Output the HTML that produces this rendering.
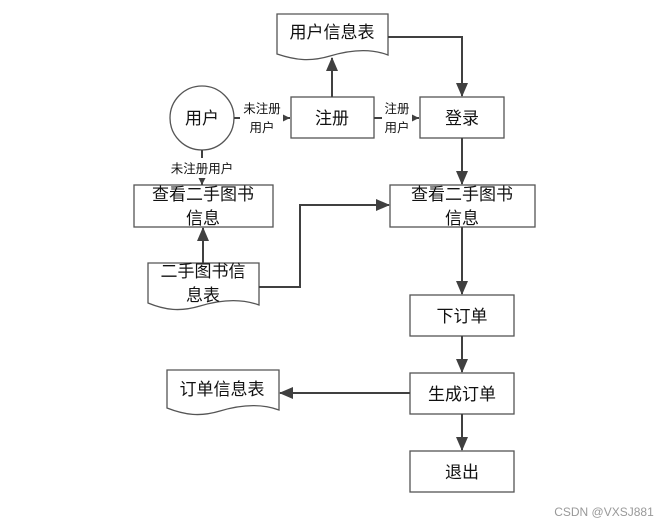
<!DOCTYPE html>
<html><head><meta charset="utf-8"><style>
html,body{margin:0;padding:0;background:#fff;}
svg{display:block;font-family:"Liberation Sans","Noto Sans CJK SC",sans-serif;}
</style></head><body>
<svg width="662" height="527" viewBox="0 0 662 527" xmlns="http://www.w3.org/2000/svg">
<defs>
<marker id="a" markerWidth="14" markerHeight="12" refX="13" refY="6" orient="auto" markerUnits="userSpaceOnUse"><path d="M0,0 L14,6 L0,12 Z" fill="#404040"/></marker>
<marker id="s" markerWidth="7" markerHeight="7" refX="7" refY="3.5" orient="auto" markerUnits="userSpaceOnUse"><path d="M0,0 L7,3.5 L0,7 Z" fill="#404040"/></marker>
</defs>
<g fill="#fff" stroke="#555" stroke-width="1.3">
<path d="M277,14 H388 V55 C370,48 350,50 330,56 C310,62 295,60 277,54 Z"/>
<path d="M148,263 H259 V305 C240,298 220,300 200,306 C180,312 165,310 148,303 Z"/>
<path d="M167,370 H279 V410 C260,403 240,405 220,411 C200,417 185,415 167,408 Z"/>
<circle cx="202" cy="118" r="32"/>
<rect x="291" y="97" width="83" height="41"/>
<rect x="420" y="97" width="84" height="41"/>
<rect x="134" y="185" width="139" height="42"/>
<rect x="390" y="185" width="145" height="42"/>
<rect x="410" y="295" width="104" height="41"/>
<rect x="410" y="373" width="104" height="41"/>
<rect x="410" y="451" width="104" height="41"/>
</g>
<g fill="none" stroke="#404040" stroke-width="2">
<path d="M388,37 H462 V96" marker-end="url(#a)"/>
<path d="M332,97 V58" marker-end="url(#a)"/>
<path d="M462,138 V184" marker-end="url(#a)"/>
<path d="M462,227 V294" marker-end="url(#a)"/>
<path d="M462,336 V372" marker-end="url(#a)"/>
<path d="M462,414 V450" marker-end="url(#a)"/>
<path d="M410,393 H280" marker-end="url(#a)"/>
<path d="M203,263 V228" marker-end="url(#a)"/>
<path d="M259,287 H300 V205 H389" marker-end="url(#a)"/>
<path d="M234,118 H240"/>
<path d="M284,118 H290" marker-end="url(#s)"/>
<path d="M374,118 H382"/>
<path d="M412,118 H419" marker-end="url(#s)"/>
<path d="M202,150 V158"/>
<path d="M202,178 V185" marker-end="url(#s)"/>
</g>
<g fill="#111" font-size="17" text-anchor="middle">
<text x="332" y="38">用户信息表</text>
<text x="202" y="124">用户</text>
<text x="332" y="124">注册</text>
<text x="462" y="124">登录</text>
<text x="203" y="200">查看二手图书</text>
<text x="203" y="224">信息</text>
<text x="462" y="200">查看二手图书</text>
<text x="462" y="224">信息</text>
<text x="203" y="277">二手图书信</text>
<text x="203" y="301">息表</text>
<text x="462" y="322">下订单</text>
<text x="462" y="400">生成订单</text>
<text x="462" y="478">退出</text>
<text x="222" y="395">订单信息表</text>
</g>
<g fill="#111" font-size="12.5" text-anchor="middle">
<text x="262" y="113">未注册</text>
<text x="262" y="132">用户</text>
<text x="397" y="113">注册</text>
<text x="397" y="132">用户</text>
<text x="202" y="173">未注册用户</text>
</g>
<text x="604" y="516" font-size="12" fill="#999" text-anchor="middle">CSDN @VXSJ881</text>
</svg>
</body></html>
